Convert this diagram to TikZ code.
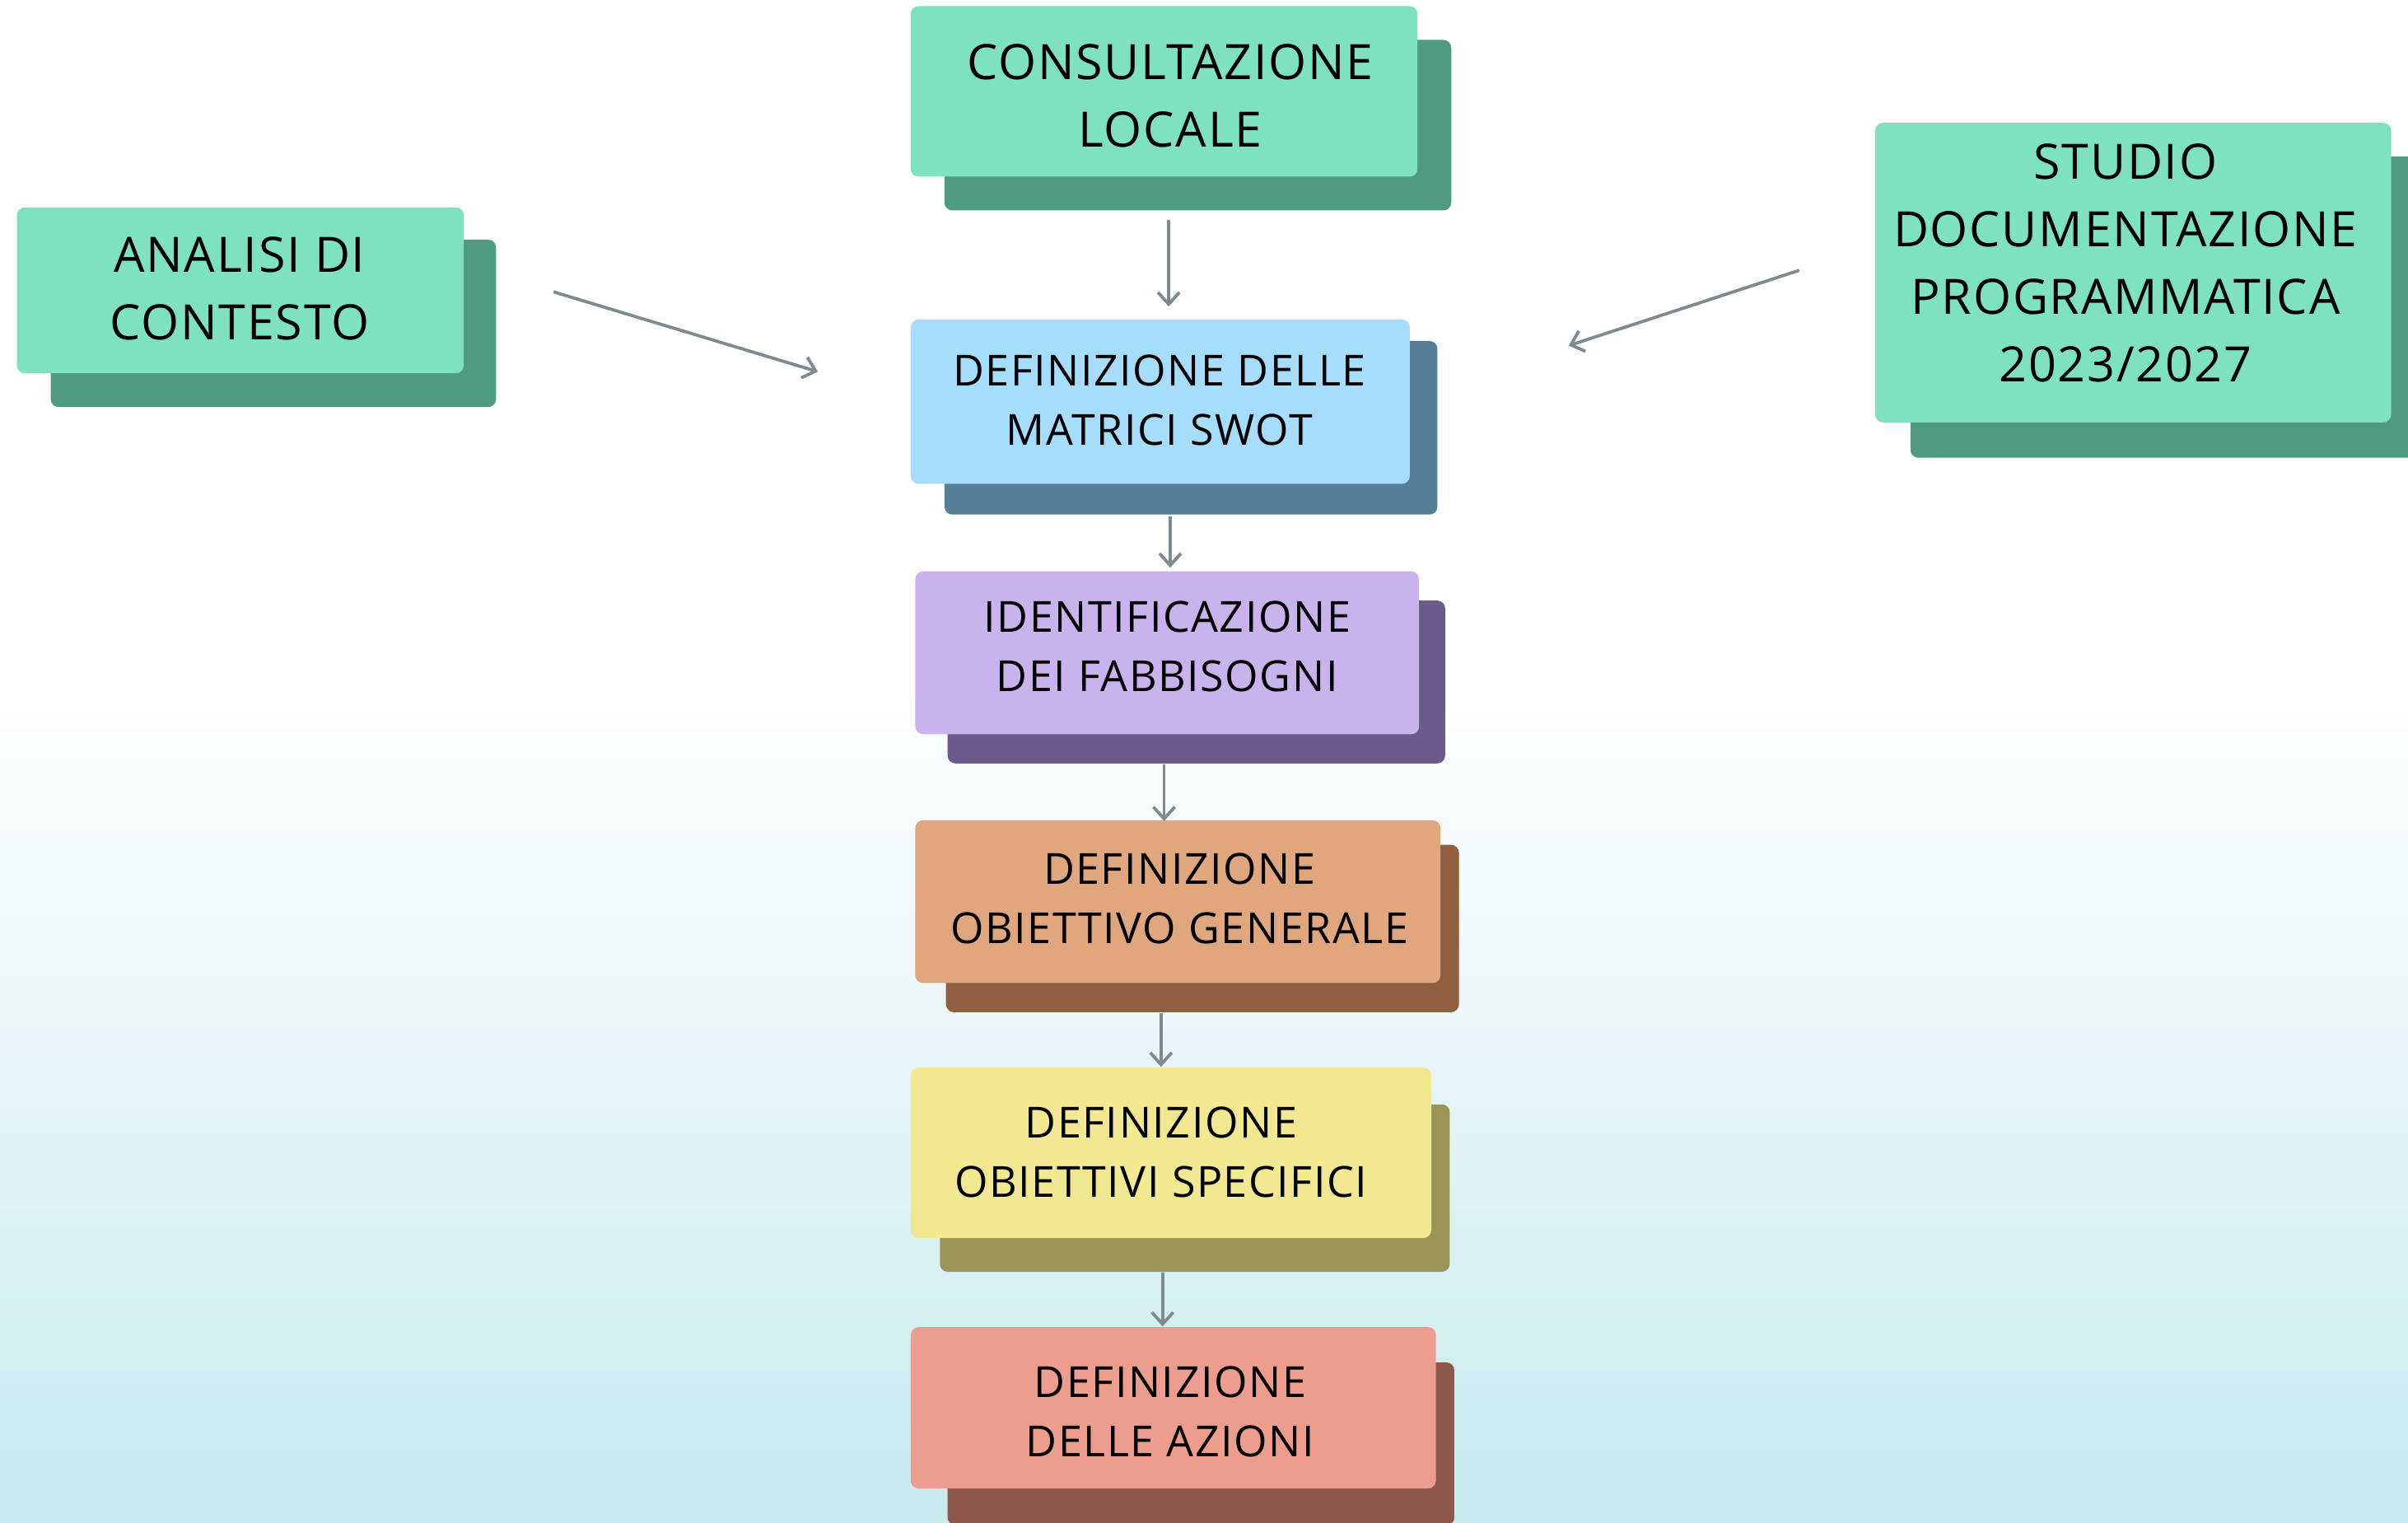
\documentclass[tikz,border=0pt]{standalone}
\usepackage{fontspec}
\setmainfont{Open Sans}[LetterSpace=3]
\usetikzlibrary{arrows.meta}
\def\pxu{0.4662pt}
\definecolor{gF}{HTML}{7EE1C0}
\definecolor{gB}{HTML}{4F9B80}
\definecolor{bF}{HTML}{A6DDFC}
\definecolor{bB}{HTML}{537F98}
\definecolor{pF}{HTML}{C8B3EC}
\definecolor{pB}{HTML}{6B5A8C}
\definecolor{oF}{HTML}{E0A67D}
\definecolor{oB}{HTML}{8F5F40}
\definecolor{yF}{HTML}{F2E891}
\definecolor{yB}{HTML}{9A9457}
\definecolor{rF}{HTML}{EC9D8E}
\definecolor{rB}{HTML}{8E574C}
\definecolor{arrc}{HTML}{7F8A8E}
\definecolor{bgb}{HTML}{C6EAEE}
\tikzset{
  card/.style={rectangle, rounded corners=2.4pt, inner sep=0pt},
  txt/.style={inner sep=0pt, align=center, text=black},
  bigtxt/.style={txt, font=\fontsize{14.8pt}{20.5pt}\selectfont},
  smalltxt/.style={txt, font=\fontsize{13pt}{18pt}\selectfont},
  arr/.style={draw=arrc, line width=0.95pt, -{Straight Barb[length=3.6pt, width=6.5pt, line width=0.95pt]}}
}
\begin{document}
\begin{tikzpicture}[x=\pxu, y=-\pxu]
\useasboundingbox (0,0) rectangle (1568,991);
\clip (0,0) rectangle (1568,991);
\fill[white] (0,0) rectangle (1568,991);
\shade[top color=white, bottom color=bgb] (0,450) rectangle (1568,991);

% back cards
\node[card, fill=gB, minimum width=330*\pxu, minimum height=111*\pxu] (c1b) at (780,81.5) {};
\node[card, fill=gB, minimum width=290*\pxu, minimum height=109*\pxu] (c2b) at (178,210.5) {};
\node[card, fill=gB, minimum width=336*\pxu, minimum height=196*\pxu] (c3b) at (1412,200) {};
\node[card, fill=bB, minimum width=321*\pxu, minimum height=113*\pxu] (c4b) at (775.5,278.5) {};
\node[card, fill=pB, minimum width=324*\pxu, minimum height=106*\pxu] (c5b) at (779,444) {};
\node[card, fill=oB, minimum width=334*\pxu, minimum height=109*\pxu] (c6b) at (783,604.5) {};
\node[card, fill=yB, minimum width=332*\pxu, minimum height=109*\pxu] (c7b) at (778,773.5) {};
\node[card, fill=rB, minimum width=330*\pxu, minimum height=106*\pxu] (c8b) at (782,940) {};

% front cards
\node[card, fill=gF, minimum width=330*\pxu, minimum height=111*\pxu] (c1) at (758,59.5) {};
\node[card, fill=gF, minimum width=291*\pxu, minimum height=108*\pxu] (c2) at (156.5,189) {};
\node[card, fill=gF, minimum width=336*\pxu, minimum height=195*\pxu] (c3) at (1389,177.5) {};
\node[card, fill=bF, minimum width=325*\pxu, minimum height=107*\pxu] (c4) at (755.5,261.5) {};
\node[card, fill=pF, minimum width=328*\pxu, minimum height=106*\pxu] (c5) at (760,425) {};
\node[card, fill=oF, minimum width=342*\pxu, minimum height=106*\pxu] (c6) at (767,587) {};
\node[card, fill=yF, minimum width=339*\pxu, minimum height=111*\pxu] (c7) at (762.5,750.5) {};
\node[card, fill=rF, minimum width=342*\pxu, minimum height=105*\pxu] (c8) at (764,916.5) {};

% texts
\node[bigtxt] (t1) at (762,62.5) {CONSULTAZIONE\\LOCALE};
\node[bigtxt] (t2) at (156,188) {ANALISI DI\\CONTESTO};
\node[bigtxt] (t3) at (1384,171) {STUDIO\\DOCUMENTAZIONE\\PROGRAMMATICA\\2023/2027};
\node[smalltxt] (t4) at (755,260.5) {DEFINIZIONE DELLE\\MATRICI SWOT};
\node[smalltxt] (t5) at (760,421) {IDENTIFICAZIONE\\DEI FABBISOGNI};
\node[smalltxt] (t6) at (768,585) {DEFINIZIONE\\OBIETTIVO GENERALE};
\node[smalltxt] (t7) at (756,750) {DEFINIZIONE\\OBIETTIVI SPECIFICI};
\node[smalltxt] (t8) at (762,919) {DEFINIZIONE\\DELLE AZIONI};

% connectors
\draw[arr] ([shift={(3,28)}]c1.south) -- ([shift={(3,-8)}]c4.north -| c1.south);
\draw[arr] ([shift={(58,1)}]c2.east) -- ([shift={(-60,-19.5)}]c4.west);
\draw[arr] ([shift={(-49,-1.5)}]c3.west) -- ([shift={(103,-36.5)}]c4.east);
\draw[arr] ([shift={(6.5,21)}]c4.south) -- ([shift={(6.5,-2)}]c5.north -| c4.south);
\draw[arr] ([shift={(-2,19)}]c5.south) -- ([shift={(-2,1)}]c6.north -| c5.south);
\draw[arr] ([shift={(-11,19)}]c6.south) -- ([shift={(-11,0)}]c7.north -| c6.south);
\draw[arr] ([shift={(-5.5,22)}]c7.south) -- ([shift={(-5.5,0)}]c8.north -| c7.south);
\end{tikzpicture}
\end{document}
